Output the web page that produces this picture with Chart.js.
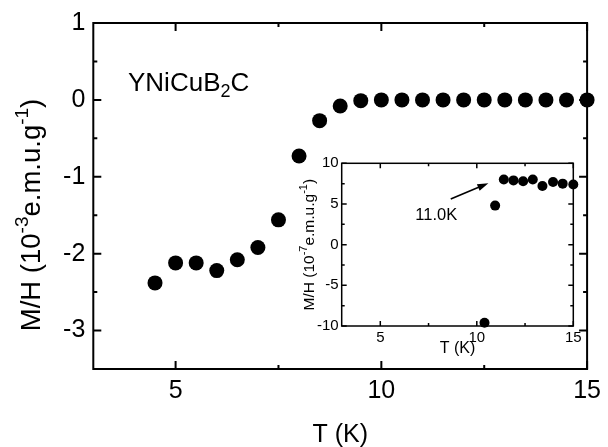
<!DOCTYPE html>
<html>
<head>
<meta charset="utf-8">
<script src="https://cdn.jsdelivr.net/npm/chart.js@4.4.1/dist/chart.umd.min.js"></script>
<style>
  body { margin: 0; background: #fff; }
  #wrap { position: relative; width: 608px; height: 447px; }
  #main { position: absolute; left: 0; top: 0; }
  #inset { position: absolute; left: 280px; top: 140px; }
</style>
</head>
<body>
<div id="wrap">
  <canvas id="main" width="608" height="447"></canvas>
  <canvas id="inset" width="320" height="220"></canvas>
</div>
<script>
// main panel: M/H (1e-3 emu/g) against T (K)
const mainT  = [4.5, 5, 5.5, 6, 6.5, 7, 7.5, 8, 8.5, 9, 9.5, 10, 10.5, 11, 11.5, 12, 12.5, 13, 13.5, 14, 14.5, 15];
const mainMH = [-2.38, -2.12, -2.12, -2.22, -2.08, -1.92, -1.56, -0.73, -0.27, -0.08, -0.01,
                0, 0, 0, 0, 0, 0, 0, 0, 0, 0, 0];
const mainXTicks = [5, 10, 15];
const mainXMinor = [7.5, 12.5];
const mainYTicks = [-3, -2, -1, 0, 1];
const mainYMinor = [-2.5, -1.5, -0.5, 0.5];

// inset: M/H (1e-7 emu/g) near the transition
const insetT  = [10.4, 10.95, 11.4, 11.9, 12.4, 12.9, 13.4, 13.95, 14.45, 15.0];
const insetMH = [-9.6, 4.8, 8.0, 7.9, 7.8, 8.0, 7.2, 7.7, 7.5, 7.4];
const insetXTicks = [5, 10, 15];
const insetXMinor = [7.5, 12.5];
const insetYTicks = [-10, -5, 0, 5, 10];
const insetYMinor = [-7.5, -2.5, 2.5, 7.5];

// arrow + label pointing at Tc, in inset data units
const tcArrowFrom = [8.65, 5.6];
const tcArrowTo   = [10.6, 7.55];
const tcLabel     = { text: '11.0K', x: 7.9, y: 3.7 };

const FAM = '"Liberation Sans", Arial, Helvetica, sans-serif';

// draw a run of text pieces, some raised (sup) or lowered (sub)
function richText(ctx, parts, x, y, size, opts = {}) {
  ctx.save();
  ctx.translate(x, y);
  if (opts.rotate) ctx.rotate(-Math.PI / 2);
  const fontOf = p => (p.sup || p.sub ? Math.round(size * 0.68) : size) + 'px ' + FAM;
  let w = 0;
  parts.forEach(p => { ctx.font = fontOf(p); p.w = ctx.measureText(p.t).width; w += p.w; });
  let cx = opts.align === 'left' ? 0 : -w / 2;
  const base = opts.baseline ? 0 : size * 0.36;
  ctx.fillStyle = '#000';
  ctx.textBaseline = 'alphabetic';
  ctx.textAlign = 'left';
  parts.forEach(p => {
    ctx.font = fontOf(p);
    let dy = 0;
    if (p.sup) dy = -size * 0.42;
    if (p.sub) dy = size * 0.22;
    ctx.fillText(p.t, cx, base + dy);
    cx += p.w;
  });
  ctx.restore();
}

// box round the chart area with inward ticks on all four sides
function framePlugin(xMaj, xMin, yMaj, yMin, lw, majLen, minLen) {
  return {
    id: 'frame',
    afterDatasetsDraw(chart) {
      const { ctx, chartArea: a, scales: { x, y } } = chart;
      ctx.save();
      ctx.strokeStyle = '#000';
      ctx.lineWidth = lw;
      ctx.strokeRect(a.left, a.top, a.right - a.left, a.bottom - a.top);
      ctx.beginPath();
      const vx = (v, len) => {
        const px = x.getPixelForValue(v);
        ctx.moveTo(px, a.bottom); ctx.lineTo(px, a.bottom - len);
        ctx.moveTo(px, a.top);    ctx.lineTo(px, a.top + len);
      };
      const vy = (v, len) => {
        const py = y.getPixelForValue(v);
        ctx.moveTo(a.left, py);  ctx.lineTo(a.left + len, py);
        ctx.moveTo(a.right, py); ctx.lineTo(a.right - len, py);
      };
      xMaj.forEach(v => vx(v, majLen));
      xMin.forEach(v => vx(v, minLen));
      yMaj.forEach(v => vy(v, majLen));
      yMin.forEach(v => vy(v, minLen));
      ctx.stroke();
      ctx.restore();
    }
  };
}

function axisOpts(min, max, tickList, size, pad, fit) {
  return {
    type: 'linear',
    min, max,
    afterBuildTicks: s => { s.ticks = tickList.map(v => ({ value: v })); },
    afterFit: fit,
    grid: { display: false, drawTicks: false },
    border: { display: false },
    ticks: {
      color: '#000',
      font: { size, family: FAM },
      padding: pad,
      autoSkip: false,
      maxRotation: 0,
      callback: v => String(v)
    }
  };
}

const mainX = axisOpts(3, 15, mainXTicks, 25, 7, s => { s.height = 78; });
mainX.title = { display: true, text: 'T (K)', color: '#000', font: { size: 25, family: FAM }, padding: { top: 0, bottom: -3 } };
const mainY = axisOpts(-3.5, 1, mainYTicks, 25, 8, s => { s.width = 93.3; });

new Chart(document.getElementById('main'), {
  type: 'scatter',
  data: {
    datasets: [{
      data: mainT.map((t, i) => ({ x: t, y: mainMH[i] })),
      pointRadius: 7.5,
      pointBackgroundColor: '#000',
      pointBorderWidth: 0,
      clip: false
    }]
  },
  options: {
    responsive: false,
    animation: false,
    events: [],
    layout: { padding: { top: 20, right: 14.7, left: 0, bottom: 0 } },
    plugins: { legend: { display: false }, tooltip: { enabled: false } },
    scales: { x: mainX, y: mainY }
  },
  plugins: [
    framePlugin(mainXTicks, mainXMinor, mainYTicks, mainYMinor, 2, 8, 4),
    {
      id: 'mainText',
      afterDraw(chart) {
        const ctx = chart.ctx;
        richText(ctx, [{ t: 'M/H (10' }, { t: '-3', sup: true }, { t: 'e.m.u.g' }, { t: '-1', sup: true }, { t: ')' }],
          30, 215, 27.5, { rotate: true });
        richText(ctx, [{ t: 'YNiCuB' }, { t: '2', sub: true }, { t: 'C' }], 128, 91, 26, { align: 'left', baseline: true });
      }
    }
  ]
});

const inX = axisOpts(3, 15, insetXTicks, 15, 3, s => { s.height = 34; });
inX.title = { display: true, text: 'T (K)', color: '#000', font: { size: 16, family: FAM }, padding: { top: 0, bottom: 2 } };
const inY = axisOpts(-10, 10, insetYTicks, 15, 3, s => { s.width = 61.7; });

new Chart(document.getElementById('inset'), {
  type: 'scatter',
  data: {
    datasets: [{
      data: insetT.map((t, i) => ({ x: t, y: insetMH[i] })),
      pointRadius: 5,
      pointBackgroundColor: '#000',
      pointBorderWidth: 0,
      clip: false
    }]
  },
  options: {
    responsive: false,
    animation: false,
    events: [],
    layout: { padding: { top: 23.3, right: 26.7, left: 0, bottom: 0 } },
    plugins: { legend: { display: false }, tooltip: { enabled: false } },
    scales: { x: inX, y: inY }
  },
  plugins: [
    framePlugin(insetXTicks, insetXMinor, insetYTicks, insetYMinor, 1.5, 5, 3),
    {
      id: 'insetText',
      afterDraw(chart) {
        const { ctx, scales: { x, y } } = chart;
        richText(ctx, [{ t: 'M/H (10' }, { t: '-7', sup: true }, { t: 'e.m.u.g' }, { t: '-1', sup: true }, { t: ')' }],
          28, 104.7, 15.5, { rotate: true });
        // arrow to Tc
        const x0 = x.getPixelForValue(tcArrowFrom[0]), y0 = y.getPixelForValue(tcArrowFrom[1]);
        const x1 = x.getPixelForValue(tcArrowTo[0]),   y1 = y.getPixelForValue(tcArrowTo[1]);
        const ang = Math.atan2(y1 - y0, x1 - x0);
        ctx.save();
        ctx.strokeStyle = '#000';
        ctx.fillStyle = '#000';
        ctx.lineWidth = 1.6;
        ctx.beginPath();
        ctx.moveTo(x0, y0);
        ctx.lineTo(x1 - 8 * Math.cos(ang), y1 - 8 * Math.sin(ang));
        ctx.stroke();
        ctx.beginPath();
        ctx.moveTo(x1, y1);
        ctx.lineTo(x1 - 11 * Math.cos(ang) + 3.5 * Math.sin(ang), y1 - 11 * Math.sin(ang) - 3.5 * Math.cos(ang));
        ctx.lineTo(x1 - 11 * Math.cos(ang) - 3.5 * Math.sin(ang), y1 - 11 * Math.sin(ang) + 3.5 * Math.cos(ang));
        ctx.closePath();
        ctx.fill();
        ctx.restore();
        richText(ctx, [{ t: tcLabel.text }], x.getPixelForValue(tcLabel.x), y.getPixelForValue(tcLabel.y), 16.5);
      }
    }
  ]
});
</script>
</body>
</html>
